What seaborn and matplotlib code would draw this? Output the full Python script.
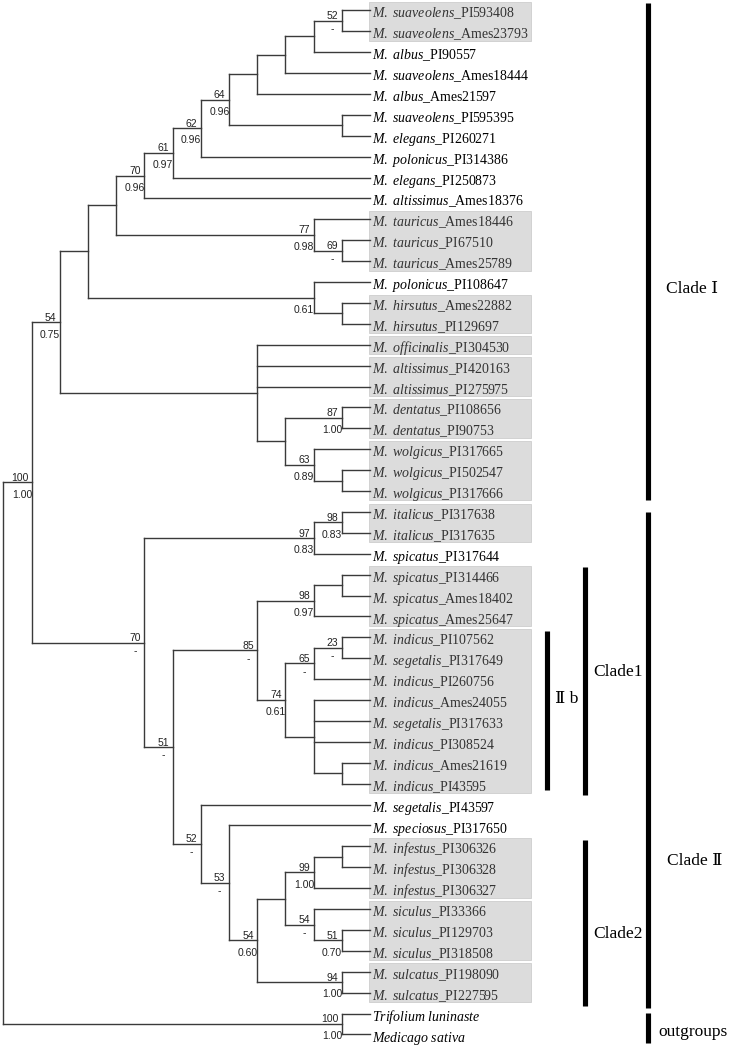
import pandas as pd
import matplotlib
matplotlib.use("Agg")
import matplotlib.pyplot as plt
from matplotlib.patches import Rectangle
import seaborn as sns

sns.set_theme(style="white")
plt.rcParams["font.family"] = ["Liberation Serif", "DejaVu Serif", "Noto Sans CJK SC"]
plt.rcParams["mathtext.fontset"] = "custom"
plt.rcParams["mathtext.it"] = "Liberation Serif:italic"
plt.rcParams["mathtext.rm"] = "Liberation Serif"

# === data: leaves (top to bottom) ===
leaves = [
    "M. suaveolens_PI593408", "M. suaveolens_Ames23793", "M. albus_PI90557",
    "M. suaveolens_Ames18444", "M. albus_Ames21597", "M. suaveolens_PI595395",
    "M. elegans_PI260271", "M. polonicus_PI314386", "M. elegans_PI250873",
    "M. altissimus_Ames18376", "M. tauricus_Ames18446", "M. tauricus_PI67510",
    "M. tauricus_Ames25789", "M. polonicus_PI108647", "M. hirsutus_Ames22882",
    "M. hirsutus_PI129697", "M. officinalis_PI304530", "M. altissimus_PI420163",
    "M. altissimus_PI275975", "M. dentatus_PI108656", "M. dentatus_PI90753",
    "M. wolgicus_PI317665", "M. wolgicus_PI502547", "M. wolgicus_PI317666",
    "M. italicus_PI317638", "M. italicus_PI317635", "M. spicatus_PI317644",
    "M. spicatus_PI314466", "M. spicatus_Ames18402", "M. spicatus_Ames25647",
    "M. indicus_PI107562", "M. segetalis_PI317649", "M. indicus_PI260756",
    "M. indicus_Ames24055", "M. segetalis_PI317633", "M. indicus_PI308524",
    "M. indicus_Ames21619", "M. indicus_PI43595", "M. segetalis_PI43597",
    "M. speciosus_PI317650", "M. infestus_PI306326", "M. infestus_PI306328",
    "M. infestus_PI306327", "M. siculus_PI33366", "M. siculus_PI129703",
    "M. siculus_PI318508", "M. sulcatus_PI198090", "M. sulcatus_PI227595",
    "Trifolium luninaste", "Medicago sativa",
]

# grey-shaded leaf groups (first, last leaf, 1-based)
boxed_groups = [(1, 2), (11, 13), (15, 16), (17, 17), (18, 19), (20, 21), (22, 24),
                (25, 26), (28, 30), (31, 38), (41, 43), (44, 46), (47, 48)]

# === data: internal nodes (children first), cladogram depth level, bootstrap / posterior ===
node_names = [f"n{i}" for i in range(1, 46)]
node_children = [
    [1, 2], ["n1", 3], ["n2", 4], ["n3", 5], [6, 7], ["n4", "n5"], ["n6", 8], ["n7", 9],
    ["n8", 10], [12, 13], [11, "n10"], ["n9", "n11"], [15, 16], [14, "n13"], ["n12", "n14"],
    [20, 21], [23, 24], [22, "n17"], ["n16", "n18"], [17, 18, 19, "n19"], ["n15", "n20"],
    [25, 26], ["n22", 27], [28, 29], ["n24", 30], [31, 32], ["n26", 33], [37, 38],
    [34, 35, 36, "n28"], ["n27", "n29"], ["n25", "n30"], [41, 42], ["n32", 43], [45, 46],
    [44, "n34"], ["n33", "n35"], [47, 48], ["n36", "n37"], [40, "n38"], [39, "n39"],
    ["n31", "n40"], ["n23", "n41"], ["n21", "n42"], [49, 50], ["n43", "n44"],
]
node_levels = [12, 11, 10, 9, 12, 8, 7, 6, 5, 12, 11, 4, 12, 11, 3,
               12, 12, 11, 10, 9, 2, 12, 11, 12, 11, 12, 11, 12, 11, 10,
               9, 12, 11, 12, 11, 10, 12, 9, 8, 7, 6, 5, 1, 12, 0]
node_bs = ["52", "", "", "", "", "64", "62", "61", "70", "69", "77", "", "", "", "",
           "87", "", "63", "", "", "54", "98", "97", "", "98", "23", "65", "", "", "74",
           "85", "", "99", "51", "54", "", "94", "54", "53", "52", "51", "70", "100", "100", ""]
node_pp = ["-", "", "", "", "", "0.96", "0.96", "0.97", "0.96", "-", "0.98", "", "", "0.61", "",
           "1.00", "", "0.89", "", "", "0.75", "0.83", "0.83", "", "0.97", "-", "-", "", "", "0.61",
           "-", "", "1.00", "0.70", "-", "", "1.00", "0.60", "-", "-", "-", "-", "1.00", "1.00", ""]
LEAF_LEVEL = 13

# === data: clade bars ===
clade_labels = ["Clade Ⅰ", "Clade Ⅱ", "Clade1", "Ⅱ b", "Clade2", "outgroups"]
clade_top = [0.64, 24.99, 27.62, 30.68, 40.70, 48.98]
clade_bottom = [24.43, 48.74, 38.54, 38.31, 48.64, 50.39]
clade_text_y = [14.33, 41.70, 32.65, 33.95, 45.20, 49.87]

# --- layout (pixel references of the 732x1048 canvas) ---
PX_X0, PX_LEVEL, PX_Y0, PX_LEAF = 3.3, 28.2, 10.3, 20.9
PT = 0.72  # points per pixel at dpi 100


def lx(px):
    return (px - PX_X0) / PX_LEVEL


clade_bar_px = [648, 648, 585, 546.7, 585, 648]
clade_text_px = [666, 667, 593, 555, 593, 658]

# --- positions of every node ---
pos = {i: (LEAF_LEVEL, i) for i in range(1, len(leaves) + 1)}
for name, kids, lev in zip(node_names, node_children, node_levels):
    ys = [pos[k][1] for k in kids]
    pos[name] = (lev, (ys[0] + ys[-1]) / 2)

rows = []
seg = 0
for name, kids in zip(node_names, node_children):
    x, _ = pos[name]
    ys = [pos[k][1] for k in kids]
    rows += [dict(seg=seg, x=x, y=ys[0]), dict(seg=seg, x=x, y=ys[-1])]
    seg += 1
    for k in kids:
        kx, ky = pos[k]
        rows += [dict(seg=seg, x=x, y=ky), dict(seg=seg, x=kx, y=ky)]
        seg += 1
edges = pd.DataFrame(rows)

fig = plt.figure(figsize=(7.32, 10.48), dpi=100)
ax = fig.add_axes([0, 0, 1, 1])

# grey boxes behind grouped accessions
boxed = set()
for a, b in boxed_groups:
    boxed.update(range(a, b + 1))
    ax.add_patch(Rectangle((lx(369), a - 0.4), lx(531) - lx(369), (b - a) + 0.85,
                           facecolor="#dcdcdc", edgecolor="#cdcdcd", lw=0.6, zorder=0))

sns.lineplot(data=edges, x="x", y="y", units="seg", estimator=None, sort=False,
             color="#3a3a3a", linewidth=1.0, solid_capstyle="projecting", ax=ax, legend=False)

# leaf labels: species italic, accession upright
for i, name in enumerate(leaves, 1):
    if "_" in name:
        sp, acc = name.split("_", 1)
        lab = r"$\mathit{" + sp.replace(" ", r"\ ") + "}$_" + acc
    else:
        lab = r"$\mathit{" + name.replace(" ", r"\ ") + "}$"
    ax.annotate(lab, (LEAF_LEVEL, i), xytext=(2 * PT, -7.2 * PT), textcoords="offset points",
                ha="left", va="baseline", fontsize=10, family="Liberation Serif",
                color="#333333" if i in boxed else "black")

# support values
for name, bs, pp in zip(node_names, node_bs, node_pp):
    x, y = pos[name]
    kw = dict(textcoords="offset points", fontsize=7.5, family="Liberation Sans", color="#222222")
    if bs:
        ax.annotate(bs, (x, y), xytext=(-3.4 * PT, 1.5 * PT), ha="right", va="baseline", **kw)
    if pp == "-":
        cx = -(3.4 + len(bs) * 5.8 / 2)
        ax.annotate(pp, (x, y), xytext=(cx * PT, -11.3 * PT), ha="center", va="baseline", **kw)
    elif pp:
        ax.annotate(pp, (x, y), xytext=(0.5 * PT, -15.3 * PT), ha="right", va="baseline", **kw)

# clade bars
for lab, t, b, ty, bx, tx in zip(clade_labels, clade_top, clade_bottom, clade_text_y,
                                 clade_bar_px, clade_text_px):
    ax.vlines(lx(bx), t, b, colors="black", lw=3.7)
    ax.text(lx(tx), ty, lab, ha="left", va="center", fontsize=12.5,
            family=["Liberation Serif", "DejaVu Serif", "Noto Sans CJK SC"], color="black")

ax.set_xlim(lx(0), lx(732))
ax.set_ylim(1 + (1048 - PX_Y0) / PX_LEAF, 1 - PX_Y0 / PX_LEAF)
ax.axis("off")

fig.savefig("out.png", dpi=100)
plt.close(fig)
